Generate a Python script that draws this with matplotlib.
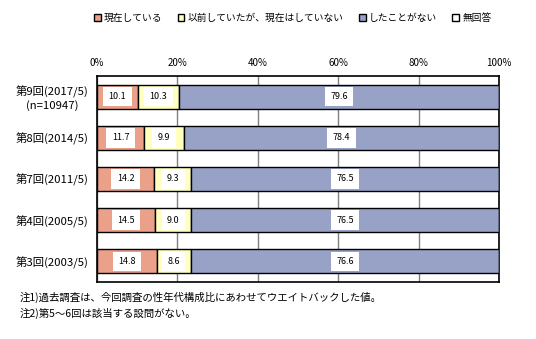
import numpy as np
import matplotlib.pyplot as plt

plt.rcParams['font.family'] = ['Noto Sans CJK JP', 'DejaVu Sans']

rounds = ['第9回(2017/5)\n(n=10947)', '第8回(2014/5)', '第7回(2011/5)',
          '第4回(2005/5)', '第3回(2003/5)']
current = [10.1, 11.7, 14.2, 14.5, 14.8]
before = [10.3, 9.9, 9.3, 9.0, 8.6]
never = [79.6, 78.4, 76.5, 76.5, 76.6]
no_answer = [0.0, 0.0, 0.0, 0.0, 0.0]
series_names = ['現在している', '以前していたが、現在はしていない', 'したことがない', '無回答']
colors = ['#EBA08A', '#FFFFC0', '#97A2C6', '#FFFFFF']

fig = plt.figure(figsize=(5.36, 3.39), dpi=100)
ax = fig.add_axes([0.181, 0.168, 0.750, 0.608])

y = np.arange(len(rounds))
left = np.zeros(len(rounds))
for vals, name, c in zip([current, before, never, no_answer], series_names, colors):
    ax.barh(y, vals, left=left, height=0.58, color=c, edgecolor='black',
            linewidth=1.0, label=name, zorder=3)
    if name != '無回答':
        for v, l, yy in zip(vals, left, y):
            ax.text(l + v / 2, yy, f'{v:.1f}', ha='center', va='center', fontsize=6.5,
                    zorder=4, bbox=dict(boxstyle='square,pad=0.6', fc='white', ec='none'))
    left = left + np.array(vals)

ax.set_xlim(0, 100)
ax.set_ylim(len(rounds) - 0.5, -0.5)
ax.set_xticks([0, 20, 40, 60, 80, 100])
ax.set_xticklabels(['0%', '20%', '40%', '60%', '80%', '100%'], fontsize=7)
ax.xaxis.tick_top()
ax.tick_params(axis='x', length=0, pad=6)
ax.tick_params(axis='y', length=0, pad=6)
ax.set_yticks(y)
ax.set_yticklabels(rounds, fontsize=8.2, multialignment='center')
ax.grid(axis='x', color='#808080', linewidth=1.0, zorder=0)
for s in ax.spines.values():
    s.set_linewidth(1.2)

fig.legend(loc='center', bbox_to_anchor=(0.546, 0.947), ncol=4, frameon=False,
           fontsize=7, handlelength=0.7, handleheight=0.7, handletextpad=0.3,
           columnspacing=1.6)

fig.text(0.037, 0.112, '注1)過去調査は、今回調査の性年代構成比にあわせてウエイトバックした値。', fontsize=7.5)
fig.text(0.037, 0.065, '注2)第5～6回は該当する設問がない。', fontsize=7.5)

fig.savefig('out.png', dpi=100)
